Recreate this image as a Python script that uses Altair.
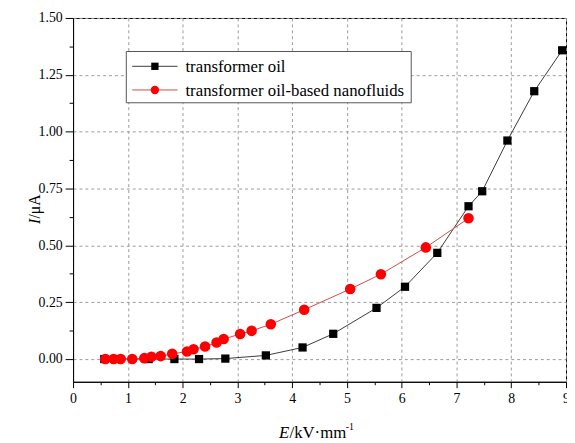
import altair as alt
import pandas as pd

series_names = ["transformer oil", "transformer oil-based nanofluids"]

oil_x = [0.57, 0.78, 1.38, 1.85, 2.30, 2.78, 3.52, 4.19, 4.75, 5.54, 6.06, 6.65, 7.22, 7.47, 7.93, 8.42, 8.93]
oil_y = [0.0, 0.0, 0.0, 0.0, 0.0, 0.002, 0.016, 0.051, 0.111, 0.225, 0.318, 0.467, 0.672, 0.738, 0.961, 1.178, 1.358]

nano_x = [0.59, 0.74, 0.87, 1.08, 1.30, 1.43, 1.60, 1.81, 2.08, 2.20, 2.41, 2.62, 2.75, 3.05, 3.26, 3.61, 4.22, 5.06, 5.62, 6.44, 7.22]
nano_y = [0.0, 0.0, 0.0, 0.0, 0.004, 0.01, 0.013, 0.023, 0.033, 0.043, 0.055, 0.073, 0.088, 0.110, 0.124, 0.153, 0.217, 0.308, 0.373, 0.491, 0.619]

x_major = [0, 1, 2, 3, 4, 5, 6, 7, 8, 9]
x_minor = [0.5, 1.5, 2.5, 3.5, 4.5, 5.5, 6.5, 7.5, 8.5]
y_major = [0.0, 0.25, 0.5, 0.75, 1.0, 1.25, 1.5]
y_minor = [0.125, 0.375, 0.625, 0.875, 1.125, 1.375]

df = pd.concat([
    pd.DataFrame({"x": oil_x, "y": oil_y, "series": series_names[0]}),
    pd.DataFrame({"x": nano_x, "y": nano_y, "series": series_names[1]}),
])

FONT = "Liberation Serif"
xs = alt.Scale(domain=[0, 9], nice=False, zero=False)
ys = alt.Scale(domain=[-0.1, 1.5], nice=False, zero=False)

point_colors = ["#000000", "#ff0000"]
line_colors = ["#3a3a3a", "#d04a4a"]

base = alt.Chart(df)

lines = base.mark_line(strokeWidth=1).encode(
    x=alt.X("x:Q", scale=xs, axis=None),
    y=alt.Y("y:Q", scale=ys, axis=None),
    color=alt.Color("series:N", scale=alt.Scale(domain=series_names, range=line_colors), legend=None),
    order=alt.Order("x:Q"),
)

major_x_axis = alt.Axis(
    orient="bottom", values=x_major, format="d", grid=True, gridDash=[3, 3], gridColor="#9a9a9a",
    gridWidth=1, tickSize=6, tickColor="black", domainColor="black", labelFont=FONT, labelFontSize=14,
    labelColor="black", labelPadding=4, title=None, labelFlush=False,
)
major_y_axis = alt.Axis(
    orient="left", values=y_major, format=".2f", grid=True, gridDash=[3, 3], gridColor="#9a9a9a",
    gridWidth=1, tickSize=8, tickColor="black", domainColor="black", labelFont=FONT, labelFontSize=14,
    labelColor="black", labelPadding=3, title=None, labelFlush=False,
)

oil_pts = base.transform_filter(alt.datum.series == series_names[0]).mark_point(
    filled=True, opacity=1, shape="square", size=70, color=point_colors[0]
).encode(
    x=alt.X("x:Q", scale=xs, axis=major_x_axis),
    y=alt.Y("y:Q", scale=ys, axis=major_y_axis),
)

nano_pts = base.transform_filter(alt.datum.series == series_names[1]).mark_point(
    filled=True, opacity=1, shape="circle", size=115, color=point_colors[1]
).encode(
    x=alt.X("x:Q", scale=xs, axis=None),
    y=alt.Y("y:Q", scale=ys, axis=None),
)

minor = base.mark_point(opacity=0).encode(
    x=alt.X("x:Q", scale=xs, axis=alt.Axis(orient="bottom", values=x_minor, labels=False, domain=False,
                                          grid=False, tickSize=3, tickColor="black", title=None)),
    y=alt.Y("y:Q", scale=ys, axis=alt.Axis(orient="left", values=y_minor, labels=False, domain=False,
                                          grid=False, tickSize=4, tickColor="black", title=None)),
)

# ---- legend (drawn as annotation marks, in pixel positions of the plot area) ----
legend_df = pd.DataFrame({"series": series_names})
legend_marker_shapes = ["square", "circle"]
legend_marker_sizes = [55, 72]
row_y = [49, 73]

legend_layers = [
    alt.Chart(legend_df.head(1)).mark_rect(fill="white", stroke="#555555", strokeWidth=1).encode(
        x=alt.value(54), x2=alt.value(343), y=alt.value(34), y2=alt.value(86)
    )
]
for i, name in enumerate(series_names):
    one = alt.Chart(legend_df).transform_filter(alt.datum.series == name)
    legend_layers.append(
        one.mark_rule(color=line_colors[i], strokeWidth=1).encode(
            x=alt.value(60), x2=alt.value(106), y=alt.value(row_y[i])
        )
    )
    legend_layers.append(
        one.mark_point(filled=True, opacity=1, shape=legend_marker_shapes[i],
                       size=legend_marker_sizes[i], color=point_colors[i]).encode(
            x=alt.value(83), y=alt.value(row_y[i])
        )
    )
    legend_layers.append(
        one.mark_text(align="left", baseline="middle", font=FONT, fontSize=17, color="black").encode(
            x=alt.value(114), y=alt.value(row_y[i] + 1), text="series:N"
        )
    )

# ---- axis titles with italic variable letters ----
title_df = pd.DataFrame({"t": ["I", "/μA", "E", "/kV·mm", "-1"]})


def title_piece(txt, x, y, size, italic=False, angle=0, baseline="alphabetic"):
    kw = dict(align="left", baseline=baseline, font=FONT, fontSize=size, color="black",
              fontStyle="italic" if italic else "normal")
    if angle:
        kw["angle"] = angle
    return alt.Chart(title_df).transform_filter(alt.datum.t == txt).mark_text(**kw).encode(
        x=alt.value(x), y=alt.value(y), text="t:N"
    )


titles = [
    title_piece("I", -39, 209, 16, italic=True, angle=270, baseline="middle"),
    title_piece("/μA", -39, 203.5, 16, angle=270, baseline="middle"),
    title_piece("E", 209, 426, 17, italic=True),
    title_piece("/kV·mm", 219.5, 426, 17),
    title_piece("-1", 276.5, 418, 10),
]

chart = alt.layer(lines, minor, oil_pts, nano_pts, *legend_layers, *titles).resolve_axis(
    x="independent", y="independent"
).properties(
    width=500, height=369,
    autosize=alt.AutoSizeParams(type="none"),
    padding={"left": 66, "top": 7, "right": 1, "bottom": 62},
    background="white",
).configure(font=FONT).configure_axis(labelFont=FONT).configure_view(stroke="black", strokeWidth=1)

chart.save("out.html", embed_options={"renderer": "svg", "actions": False})
